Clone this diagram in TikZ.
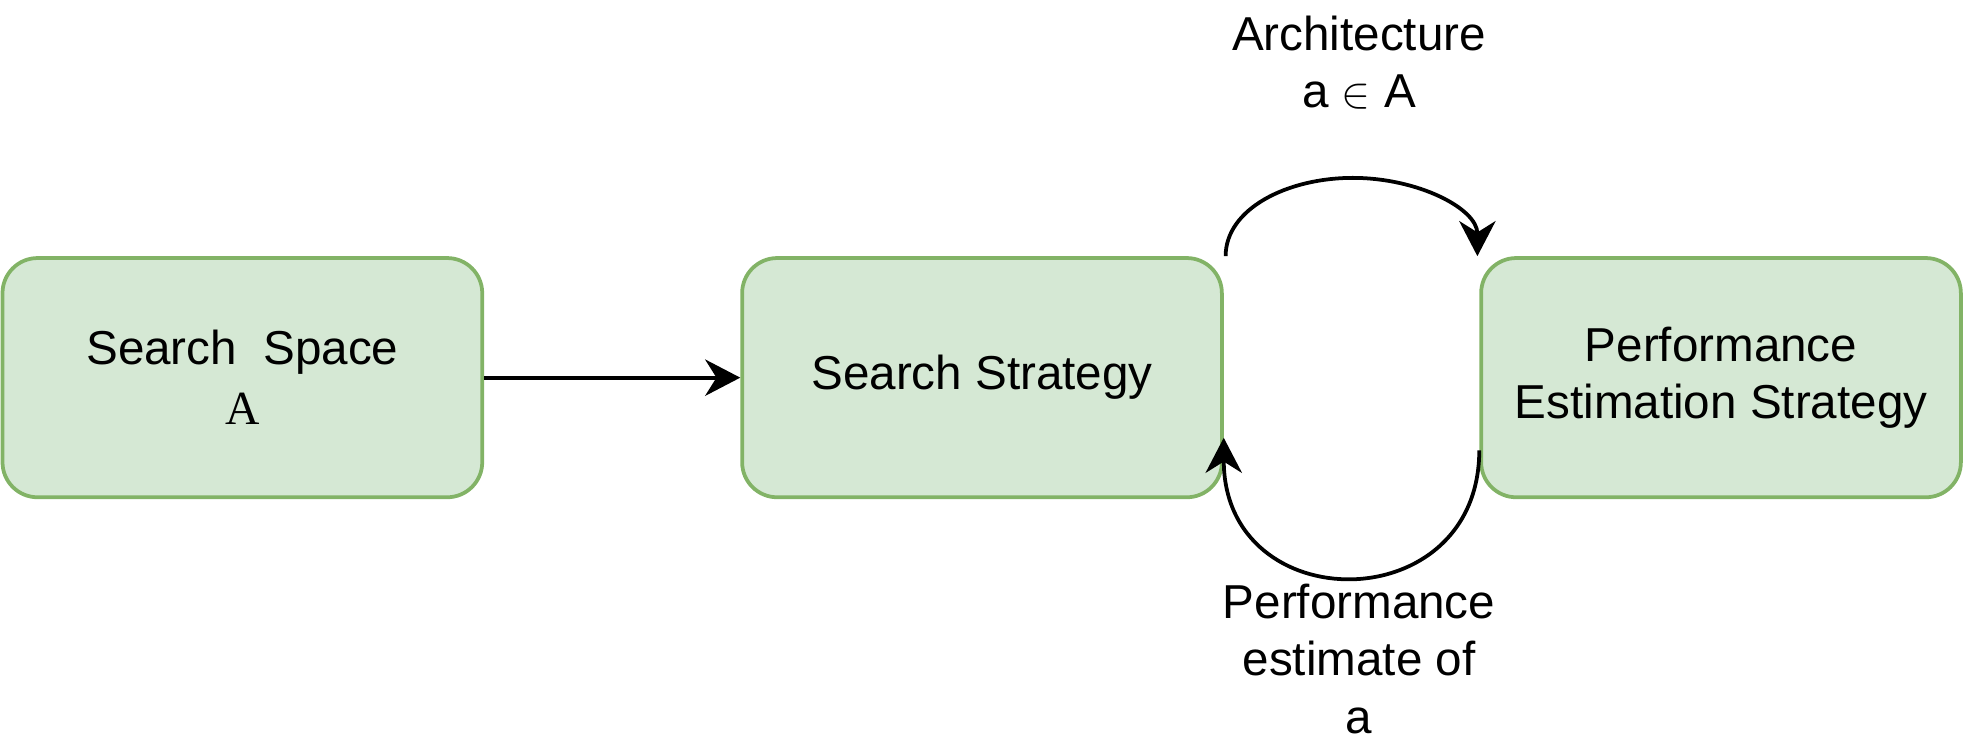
\documentclass[tikz,border=0pt]{standalone}
\usepackage{fontspec}
\setmainfont{Liberation Sans}
\newfontfamily\serifA{Liberation Serif}
\usetikzlibrary{arrows.meta}
\definecolor{boxfill}{HTML}{D5E8D4}
\definecolor{boxline}{HTML}{82B366}
\begin{document}
\begin{tikzpicture}[x=0.5pt,y=-0.5pt,
  box/.style={draw=boxline,fill=boxfill,line width=1.5pt,rounded corners=14pt,
    minimum width=191.5pt,minimum height=95.5pt,inner sep=0pt,align=center,
    font=\fontsize{19}{22.5}\selectfont},
  lbl/.style={align=center,inner sep=0pt,font=\fontsize{19}{23}\selectfont},
  conn/.style={line width=1.5pt,-{Stealth[length=14pt,width=14.5pt,inset=4.5pt]}}]
\useasboundingbox (0,0) rectangle (1568,590.8);
\node[box] (space) at (193.5,301.5) {Search\ \ Space\\[1.5pt]{\serifA A}};
\node[box] (strat) at (784,301.5) {Search Strategy};
\node[box] (perf) at (1374,301.5) {Performance\\Estimation Strategy};
\node[lbl] (archl) at (1085,50) {Architecture\\a {\fontsize{16}{16}\selectfont$\in$} A};
\node[lbl] (perfl) at (1085,526) {Performance\\estimate of\\a};
\draw[conn] (space.east) -- (strat.west);
\coordinate (s1) at ([xshift=0.75pt]strat.north east);
\coordinate (e1) at ([xshift=-0.75pt]perf.north west);
\coordinate (top) at (1080,142);
\draw[conn] (s1) .. controls ++(0,-38) and ++(-52,0) .. (top)
  .. controls ++(52,0) and ++(0,-38) .. (e1);
\coordinate (s2) at ([yshift=-29pt]perf.west);
\coordinate (e2) at ([yshift=-24pt]strat.east);
\draw[conn] (s2) .. controls ++(0,136) and ++(0,146) .. (e2);
\end{tikzpicture}
\end{document}
